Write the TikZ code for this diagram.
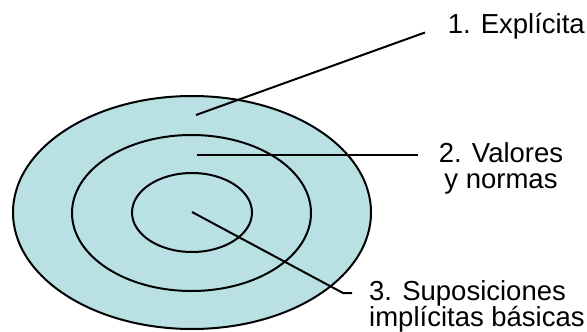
\documentclass[tikz,border=0pt]{standalone}
\usepackage{fontspec}
\setmainfont{Liberation Sans}
\definecolor{ringfill}{RGB}{185,224,227}
\begin{document}
\begin{tikzpicture}[x=1pt,y=-1pt,
  ring/.style={draw=black,line width=2pt,fill=ringfill},
  ringline/.style={draw=black,line width=2pt},
  lbl/.style={font=\fontsize{27.5}{26}\selectfont,inner sep=0pt}]
\useasboundingbox (0,0) rectangle (587,332);
\draw[ring] (192,212.5) ellipse [x radius=179,y radius=116.5];
\draw[ring] (191.5,213) ellipse [x radius=119.5,y radius=78];
\draw[ring] (192,212.5) ellipse [x radius=60,y radius=39.5];
\node[lbl,anchor=base east] (l1) at (585,34) {1. Explícita};
\node[lbl,align=center,anchor=base] (l2) at (501,188) {2. Valores\\y normas};
\node[lbl,align=left,anchor=base west] (l3) at (369,326.5) {3. Suposiciones\\implícitas básicas};
\coordinate (p1) at (196,115);
\coordinate (e1) at (425,32.5);
\coordinate (p2) at (197,154.5);
\coordinate (e2) at (418,154.5);
\coordinate (p3) at (192,212);
\coordinate (e3) at (352,293);
\draw[ringline] (p1) -- (418,35) -- (e1);
\draw[ringline] (p2) -- (e2);
\draw[ringline] (p3) -- (343,293) -- (e3);
\end{tikzpicture}
\end{document}
